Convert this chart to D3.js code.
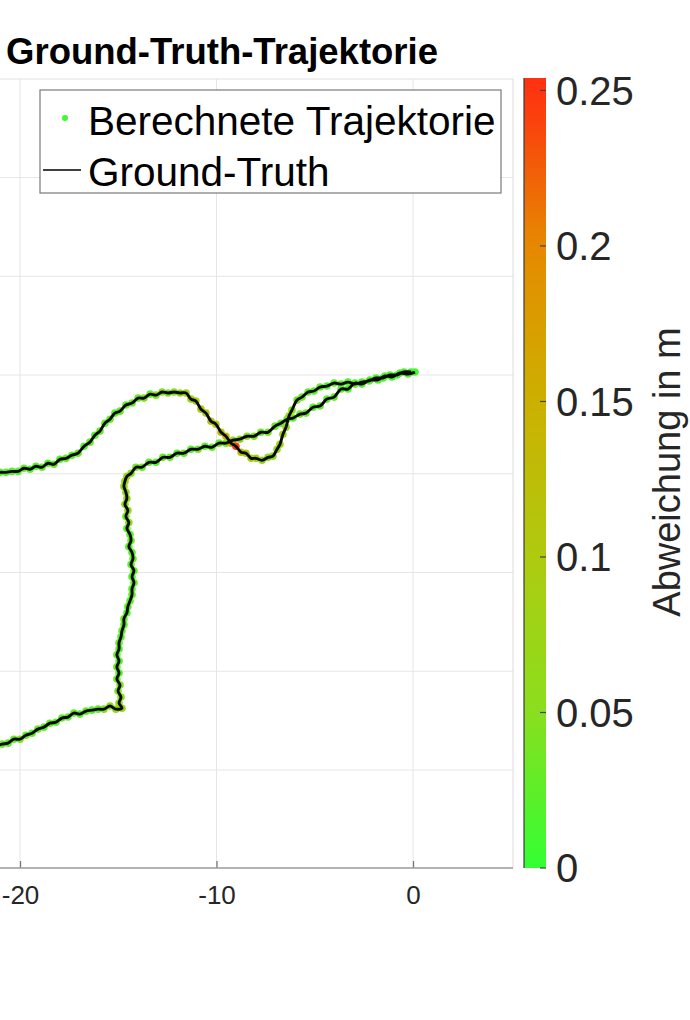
<!DOCTYPE html>
<html><head><meta charset="utf-8">
<script src="https://cdn.jsdelivr.net/npm/d3@7"></script>
<style>body{margin:0;background:#fff;} text{font-family:"Liberation Sans",Arial,Helvetica,sans-serif;}</style>
</head><body><svg id="c" width="690" height="1020"></svg>
<script>
const titleText = "Ground-Truth-Trajektorie";
const legendLabels = ["Berechnete Trajektorie", "Ground-Truth"];
const xTicks = [-20, -10, 0];
const yTicks = [-20, -15, -10, -5, 0, 5, 10];
const colorbarTicks = [0, 0.05, 0.1, 0.15, 0.2, 0.25];
const colorbarMax = 0.254;
const colorbarLabel = "Abweichung in m";

// Ground-truth path (m)
const groundTruth = [
 [0.10,0.15],[-0.25,0.05],[-0.66,0.10],[-1.07,-0.10],[-1.43,-0.05],[-1.78,-0.25],[-2.19,-0.25],[-2.60,-0.46],[-2.95,-0.41],[-3.31,-0.71],
 [-3.66,-0.71],[-4.02,-1.12],[-4.38,-1.22],[-4.73,-1.57],[-5.09,-1.63],[-5.45,-1.93],[-5.75,-1.98],[-6.11,-2.18],[-6.41,-2.24],[-6.72,-2.44],
 [-7.02,-2.59],[-7.38,-2.90],[-7.74,-2.90],[-8.09,-3.10],[-8.45,-3.10],[-8.81,-3.25],[-9.16,-3.30],[-9.52,-3.45],[-9.87,-3.45],[-10.23,-3.66],
 [-10.59,-3.61],[-10.94,-3.76],[-11.30,-3.76],[-11.66,-3.96],[-12.01,-3.96],[-12.37,-4.17],[-12.73,-4.17],[-13.08,-4.42],[-13.44,-4.42],[-13.79,-4.67],
 [-14.10,-4.67],[-14.35,-4.98],[-14.56,-5.13],[-14.66,-5.38],
 [-14.71,-5.64],[-14.61,-5.94],[-14.56,-6.25],[-14.66,-6.55],[-14.51,-6.86],[-14.61,-7.16],[-14.46,-7.47],[-14.56,-7.77],[-14.40,-8.08],[-14.35,-8.38],
 [-14.46,-8.69],[-14.30,-8.99],[-14.25,-9.30],[-14.35,-9.60],[-14.20,-9.91],[-14.30,-10.21],[-14.20,-10.52],[-14.30,-10.82],[-14.30,-11.13],[-14.40,-11.43],
 [-14.51,-11.73],[-14.56,-12.04],[-14.71,-12.34],[-14.71,-12.65],[-14.81,-12.95],[-14.86,-13.26],[-14.96,-13.56],[-14.96,-13.87],[-15.07,-14.17],[-14.96,-14.48],
 [-15.07,-14.78],[-14.96,-15.09],[-15.07,-15.39],[-14.91,-15.70],[-15.01,-16.00],[-14.86,-16.31],[-14.96,-16.61],[-14.81,-16.87],
 [-15.12,-16.92],[-15.42,-16.76],[-15.73,-16.92],[-16.03,-16.92],[-16.34,-16.97],[-16.64,-17.02],[-16.95,-17.17],[-17.26,-17.12],[-17.56,-17.32],[-17.87,-17.37],
 [-18.17,-17.58],[-18.48,-17.63],[-18.78,-17.83],[-19.09,-17.93],[-19.39,-18.14],[-19.70,-18.24],[-20.00,-18.44],[-20.31,-18.44],[-20.61,-18.64],[-20.92,-18.69],
 [-22.54,-19.05],
 [-22.54,-5.18],[-21.02,-4.93],[-20.71,-4.93],[-20.41,-4.88],[-20.10,-4.88],[-19.80,-4.72],[-19.49,-4.77],[-19.19,-4.62],[-18.88,-4.67],[-18.58,-4.47],
 [-18.27,-4.52],[-17.97,-4.27],[-17.66,-4.22],[-17.36,-4.06],[-17.05,-3.96],[-16.74,-3.61],[-16.44,-3.40],[-16.19,-3.05],[-15.93,-2.84],[-15.68,-2.44],
 [-15.42,-2.24],[-15.17,-1.93],[-14.91,-1.83],[-14.61,-1.52],[-14.30,-1.42],[-13.99,-1.17],[-13.69,-1.17],[-13.38,-0.97],[-13.08,-1.02],[-12.77,-0.86],
 [-12.47,-0.91],[-12.16,-0.86],[-11.86,-0.91],[-11.55,-0.91],
 [-11.30,-1.22],[-11.05,-1.32],[-10.79,-1.73],[-10.54,-1.93],[-10.28,-2.34],[-10.03,-2.49],[-9.77,-2.90],[-9.52,-3.10],[-9.26,-3.45],[-9.01,-3.61],
 [-8.75,-3.91],[-8.50,-3.96],[-8.24,-4.22],[-7.99,-4.22],[-7.68,-4.32],
 [-7.38,-4.17],[-7.13,-4.11],[-6.92,-3.76],[-6.77,-3.51],[-6.62,-3.00],[-6.46,-2.64],[-6.31,-2.08],[-6.16,-1.78],[-5.90,-1.27],[-5.65,-1.12],
 [-5.34,-0.86],[-5.04,-0.81],[-4.73,-0.61],
 [-4.38,-0.56],[-4.02,-0.41],[-3.66,-0.46],[-3.31,-0.36],[-2.95,-0.46],[-2.60,-0.36],[-2.24,-0.30],[-1.88,-0.15],[-1.53,-0.15],[-1.17,0.00],
 [-0.81,0.00],[-0.46,0.15],[-0.10,0.15]
];

// Deviation (m) of the computed trajectory at each point
const deviation = [
 0.01,0.02,0.02,0.01,0.02,0.02,0.01,0.02,0.02,0.02,
 0.02,0.03,0.02,0.03,0.02,0.03,0.03,0.02,0.03,0.03,
 0.03,0.04,0.03,0.04,0.05,0.06,0.05,0.04,0.03,0.03,
 0.02,0.03,0.02,0.03,0.02,0.03,0.03,0.02,0.03,0.03,0.04,0.05,0.06,0.07,
 0.07,0.06,0.07,0.05,0.06,0.04,0.05,0.03,0.02,0.03,0.02,0.02,0.03,0.02,0.03,0.02,
 0.03,0.02,0.03,0.02,0.03,0.02,0.03,0.02,0.03,0.02,0.03,0.02,0.03,0.02,0.03,0.02,0.03,0.04,0.04,0.05,0.06,0.07,
 0.06,0.05,0.04,0.03,0.02,0.03,0.02,0.03,0.02,0.03,0.02,0.03,0.02,0.03,0.02,0.03,0.04,0.03,0.02,0.03,0.02,
 0.02,0.02,0.02,0.03,0.02,0.03,0.02,0.02,0.03,0.02,0.03,0.02,0.03,0.02,0.03,0.02,0.03,0.02,0.03,0.02,0.03,0.02,0.03,0.02,0.03,0.03,0.04,0.03,0.04,0.05,0.04,0.05,0.06,0.07,
 0.08,0.09,0.1,0.09,0.11,0.1,0.12,0.13,0.16,0.24,0.12,0.1,0.09,0.08,0.07,
 0.06,0.05,0.06,0.07,0.08,0.07,0.06,0.05,0.04,0.03,0.03,0.02,0.03,
 0.02,0.03,0.02,0.02,0.03,0.02,0.02,0.02,0.01,0.02,0.01,0.02,0.01
];

const W = 690, H = 1020;
const plot = {left: -200, right: 513, top: 79, bottom: 868};
const x = d3.scaleLinear().domain([-20, 0]).range([20, 413]);
const y = d3.scaleLinear().domain([-20, 0]).range([770, 375]);
const cmap = d3.scaleLinear()
  .domain([0, 0.05, 0.1, 0.15, 0.2, 0.25])
  .range(["#33ff33", "#8ade1e", "#aecb10", "#ccb000", "#e68a00", "#ff3010"])
  .clamp(true);

const svg = d3.select("#c");
svg.append("rect").attr("width", W).attr("height", H).attr("fill", "#fff");
const defs = svg.append("defs");
defs.append("clipPath").attr("id", "clip").append("rect")
  .attr("x", plot.left).attr("y", plot.top)
  .attr("width", plot.right - plot.left).attr("height", plot.bottom - plot.top);

// grid
const grid = svg.append("g").attr("stroke", "#e6e6e6").attr("stroke-width", 1);
grid.selectAll("line.v").data(xTicks).join("line").attr("class", "v")
  .attr("x1", d => x(d)).attr("x2", d => x(d)).attr("y1", plot.top).attr("y2", plot.bottom);
grid.selectAll("line.h").data(yTicks).join("line").attr("class", "h")
  .attr("x1", plot.left).attr("x2", plot.right).attr("y1", d => y(d)).attr("y2", d => y(d));

// box (faint top/right)
svg.append("line").attr("x1", plot.left).attr("x2", plot.right).attr("y1", plot.top).attr("y2", plot.top).attr("stroke", "#e0e0e0");
svg.append("line").attr("x1", plot.right).attr("x2", plot.right).attr("y1", plot.top).attr("y2", plot.bottom).attr("stroke", "#dcdcdc");

// data
const gData = svg.append("g").attr("clip-path", "url(#clip)");
gData.selectAll("circle").data(groundTruth).join("circle")
  .attr("cx", d => x(d[0])).attr("cy", d => y(d[1])).attr("r", 3.8)
  .attr("fill", (d, i) => cmap(deviation[i]));
gData.append("path").datum(groundTruth)
  .attr("d", d3.line().x(d => x(d[0])).y(d => y(d[1])).curve(d3.curveCatmullRom))
  .attr("fill", "none").attr("stroke", "#0a0a0a").attr("stroke-width", 2.9).attr("stroke-linejoin", "round");

// x axis
const xAxis = d3.axisBottom(x).tickValues(xTicks).tickFormat(d => String(d))
  .tickSizeInner(-7).tickSizeOuter(0).tickPadding(18);
const gx = svg.append("g").attr("transform", `translate(0,${plot.bottom})`).call(xAxis);
gx.select(".domain").remove();
gx.selectAll(".tick line").attr("stroke", "#777").attr("stroke-width", 1.3);
gx.selectAll(".tick text").attr("font-size", 26).attr("fill", "#262626")
  .attr("font-family", '"Liberation Sans",Arial,sans-serif');
svg.append("line").attr("x1", 0).attr("x2", plot.right).attr("y1", plot.bottom).attr("y2", plot.bottom)
  .attr("stroke", "#9a9a9a").attr("stroke-width", 1.5);

// title
svg.append("text").attr("x", 438).attr("y", 64).attr("text-anchor", "end")
  .attr("font-size", 36.5).attr("font-weight", "bold").attr("fill", "#000").text(titleText);

// legend
const lg = svg.append("g");
lg.append("rect").attr("x", 40).attr("y", 90).attr("width", 461).attr("height", 103)
  .attr("fill", "#fff").attr("stroke", "#7a7a7a").attr("stroke-width", 1.2);
lg.append("circle").attr("cx", 65).attr("cy", 118).attr("r", 3).attr("fill", cmap(0.01));
lg.append("line").attr("x1", 43).attr("x2", 81).attr("y1", 170).attr("y2", 170).attr("stroke", "#000").attr("stroke-width", 1.5);
lg.selectAll("text").data(legendLabels).join("text")
  .attr("x", 88).attr("y", (d, i) => i === 0 ? 135 : 186)
  .attr("font-size", 40.5).attr("fill", "#000").text(d => d);

// colorbar
const cb = {x: 524, w: 22, top: 78, bottom: 868};
const cy = d3.scaleLinear().domain([0, colorbarMax]).range([cb.bottom, cb.top]);
const grad = defs.append("linearGradient").attr("id", "grad")
  .attr("x1", 0).attr("y1", 1).attr("x2", 0).attr("y2", 0);
grad.selectAll("stop").data(d3.range(0, 1.0001, 0.05)).join("stop")
  .attr("offset", d => d).attr("stop-color", d => cmap(d * colorbarMax));
svg.append("rect").attr("x", cb.x).attr("y", cb.top).attr("width", cb.w).attr("height", cb.bottom - cb.top)
  .attr("fill", "url(#grad)");
svg.append("line").attr("x1", cb.x).attr("x2", cb.x).attr("y1", cb.top).attr("y2", cb.bottom)
  .attr("stroke", "#3a3a3a").attr("stroke-width", 1.2);
svg.selectAll("line.cbt").data(colorbarTicks).join("line").attr("class", "cbt")
  .attr("x1", cb.x + cb.w - 6).attr("x2", cb.x + cb.w).attr("y1", d => cy(d)).attr("y2", d => cy(d))
  .attr("stroke", "#444").attr("stroke-width", 1.2);
svg.selectAll("text.cbl").data(colorbarTicks).join("text").attr("class", "cbl")
  .attr("x", 556).attr("y", d => cy(d)).attr("dy", "0.36em")
  .attr("font-size", 40).attr("fill", "#262626").text(d => String(d));
svg.append("text").attr("transform", "translate(680,472) rotate(-90)")
  .attr("text-anchor", "middle").attr("font-size", 38).attr("fill", "#262626").text(colorbarLabel);
</script></body></html>
